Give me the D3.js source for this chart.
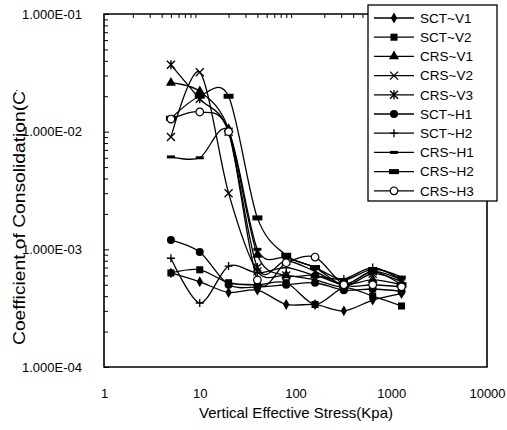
<!DOCTYPE html>
<html>
<head>
<meta charset="utf-8">
<script src="https://cdn.jsdelivr.net/npm/d3@7"></script>
<style>
  body { margin: 0; background: #fff; }
  svg { display: block; font-family: "Liberation Sans", Arial, sans-serif; }
</style>
</head>
<body>
<svg id="chart" width="507" height="430"></svg>
<script>
// loading steps (kPa), shared by every test
const stress = [5, 10, 20, 40, 80, 160, 320, 640, 1280];

const sctV1 = [6.3e-4, 5.3e-4, 4.3e-4, 4.5e-4, 3.4e-4, 3.4e-4, 3.0e-4, 3.7e-4, 4.2e-4];
const sctV2 = [6.3e-4, 6.7e-4, 5.2e-4, 5.0e-4, 5.2e-4, 3.4e-4, 4.7e-4, 4.0e-4, 3.3e-4];
const crsV1 = [2.6e-2, 2.2e-2, 1.05e-2, 9.0e-4, 6.0e-4, 6.0e-4, 5.0e-4, 5.5e-4, 5.0e-4];
const crsV2 = [9.0e-3, 3.2e-2, 3.0e-3, 6.5e-4, 6.0e-4, 5.5e-4, 4.8e-4, 6.2e-4, 5.3e-4];
const crsV3 = [3.7e-2, 1.9e-2, 1.0e-2, 7.0e-4, 8.0e-4, 6.5e-4, 5.0e-4, 6.5e-4, 5.5e-4];
const sctH1 = [1.2e-3, 9.5e-4, 5.0e-4, 4.8e-4, 5.0e-4, 5.2e-4, 4.5e-4, 4.6e-4, 4.4e-4];
const sctH2 = [8.4e-4, 3.5e-4, 7.2e-4, 6.3e-4, 7.0e-4, 6.0e-4, 5.6e-4, 7.0e-4, 5.5e-4];
const crsH1 = [6.1e-3, 6.0e-3, 1.0e-2, 1.0e-3, 8.5e-4, 7.0e-4, 5.5e-4, 6.8e-4, 5.8e-4];
const crsH2 = [1.3e-2, 2.0e-2, 2.0e-2, 1.85e-3, 8.9e-4, 7.0e-4, 5.0e-4, 6.5e-4, 5.0e-4];
const crsH3 = [1.28e-2, 1.47e-2, 1.0e-2, 5.5e-4, 7.7e-4, 8.6e-4, 5.0e-4, 5.0e-4, 4.8e-4];

const seriesNames = ["SCT~V1", "SCT~V2", "CRS~V1", "CRS~V2", "CRS~V3",
                     "SCT~H1", "SCT~H2", "CRS~H1", "CRS~H2", "CRS~H3"];
const seriesValues = [sctV1, sctV2, crsV1, crsV2, crsV3, sctH1, sctH2, crsH1, crsH2, crsH3];
const markers = ["diamond", "square", "triangle", "x", "star", "circle", "plus", "dash", "bar", "ring"];

const xTicks = [1, 10, 100, 1000, 10000];
const yTicks = [1e-4, 1e-3, 1e-2, 1e-1];

const svg = d3.select("#chart");

const x = d3.scaleLog().domain([1, 10000]).range([104, 487]);
const y = d3.scaleLog().domain([1e-4, 1e-1]).range([367, 14]);

const fmtE = v => "1.000E-" + String(-Math.round(Math.log10(v))).padStart(2, "0");

// minor tick values
const yMinor = [];
for (let e = -4; e < -1; e++) for (let m = 2; m <= 9; m++) yMinor.push(m * Math.pow(10, e));
const xMinor = [];
for (let e = 0; e < 4; e++) for (let m = 2; m <= 9; m++) xMinor.push(m * Math.pow(10, e));

// frame
svg.append("path")
    .attr("d", `M${x.range()[0]},${y.range()[1]}H${x.range()[1]}V${y.range()[0]}H${x.range()[0]}Z`)
    .attr("fill", "none")
    .attr("stroke", "#000")
    .attr("stroke-width", 1.6);

// y axis
const yAxis = svg.append("g")
    .attr("transform", `translate(${x.range()[0]},0)`)
    .call(d3.axisLeft(y).tickValues(yTicks).tickFormat(fmtE).tickSizeInner(-5).tickSizeOuter(0).tickPadding(22));
yAxis.select(".domain").remove();
yAxis.selectAll("text").attr("font-size", 13).attr("fill", "#000");

svg.append("g")
    .attr("transform", `translate(${x.range()[0]},0)`)
    .call(d3.axisLeft(y).tickValues(yMinor).tickFormat("").tickSizeInner(-4).tickSizeOuter(0))
    .select(".domain").remove();

// x axis (labels at bottom, minor ticks along the top)
const xAxis = svg.append("g")
    .attr("transform", `translate(0,${y.range()[0]})`)
    .call(d3.axisBottom(x).tickValues(xTicks).tickFormat(d3.format("d")).tickSize(0).tickPadding(22));
xAxis.select(".domain").remove();
xAxis.selectAll("text").attr("font-size", 13).attr("fill", "#000");

svg.append("g")
    .attr("transform", `translate(0,${y.range()[1]})`)
    .call(d3.axisTop(x).tickValues(xMinor).tickFormat("").tickSizeInner(-4).tickSizeOuter(0))
    .select(".domain").remove();

// axis titles
svg.append("text")
    .attr("x", 296)
    .attr("y", 418)
    .attr("text-anchor", "middle")
    .attr("font-size", 15)
    .text("Vertical Effective Stress(Kpa)");

// the y title is cut off at the top in the original
svg.append("clipPath").attr("id", "ytitle-clip")
    .append("rect").attr("x", 0).attr("y", 90).attr("width", 60).attr("height", 300);

svg.append("g")
    .attr("clip-path", "url(#ytitle-clip)")
    .append("text")
    .attr("transform", "translate(25,345) rotate(-90)")
    .attr("font-size", 16)
    .attr("textLength", 270)
    .attr("lengthAdjust", "spacingAndGlyphs")
    .text("Coefficient of Consolidation(Cv)");

// marker drawing
function drawMarker(g, type) {
  const stroke = "#000";
  switch (type) {
    case "diamond":
      g.append("path").attr("d", d3.symbol(d3.symbolDiamond, 34)()).attr("fill", stroke); break;
    case "square":
      g.append("path").attr("d", d3.symbol(d3.symbolSquare, 50)()).attr("fill", stroke); break;
    case "triangle":
      g.append("path").attr("d", d3.symbol(d3.symbolTriangle, 44)()).attr("fill", stroke); break;
    case "circle":
      g.append("circle").attr("r", 4).attr("fill", stroke); break;
    case "ring":
      g.append("circle").attr("r", 3.8).attr("fill", "#fff").attr("stroke", stroke).attr("stroke-width", 1.2); break;
    case "plus":
      g.append("path").attr("d", "M-4,0H4M0,-4V4").attr("stroke", stroke).attr("stroke-width", 1.3); break;
    case "x":
      g.append("path").attr("d", "M-4,-4L4,4M-4,4L4,-4").attr("stroke", stroke).attr("stroke-width", 1.3); break;
    case "star":
      g.append("path").attr("d", "M-4,-4L4,4M-4,4L4,-4M0,-4.5V4.5").attr("stroke", stroke).attr("stroke-width", 1.4); break;
    case "dash":
      g.append("rect").attr("x", -4).attr("y", -1.5).attr("width", 8).attr("height", 3).attr("fill", stroke); break;
    case "bar":
      g.append("rect").attr("x", -5).attr("y", -2.5).attr("width", 10).attr("height", 5).attr("fill", stroke); break;
  }
}

const line = d3.line()
    .x(d => x(d[0]))
    .y(d => y(d[1]))
    .curve(d3.curveCardinal.tension(0.1));

const series = seriesNames.map((name, i) => ({
  name, marker: markers[i],
  points: stress.map((s, j) => [s, seriesValues[i][j]])
}));

const plot = svg.append("g");
plot.selectAll(".series")
    .data(series)
    .enter().append("path")
    .attr("class", "series")
    .attr("d", d => line(d.points))
    .attr("fill", "none")
    .attr("stroke", "#000")
    .attr("stroke-width", 1.3);

series.forEach(s => {
  plot.selectAll(null)
      .data(s.points)
      .enter().append("g")
      .attr("transform", d => `translate(${x(d[0])},${y(d[1])})`)
      .each(function() { drawMarker(d3.select(this), s.marker); });
});

// legend
const legend = svg.append("g").attr("transform", "translate(368,5)");
legend.append("rect")
    .attr("width", 129).attr("height", 196)
    .attr("fill", "#fff").attr("stroke", "#000").attr("stroke-width", 1.3);

const item = legend.selectAll(".legend")
    .data(series)
    .enter().append("g")
    .attr("class", "legend")
    .attr("transform", (d, i) => `translate(0,${13 + i * 19.2})`);

item.append("line")
    .attr("x1", 6).attr("x2", 46)
    .attr("stroke", "#000").attr("stroke-width", 1.3);
item.append("g")
    .attr("transform", "translate(26,0)")
    .each(function(d) { drawMarker(d3.select(this), d.marker); });
item.append("text")
    .attr("x", 52)
    .attr("dy", "0.35em")
    .attr("font-size", 13.5)
    .text(d => d.name);
</script>
</body>
</html>
